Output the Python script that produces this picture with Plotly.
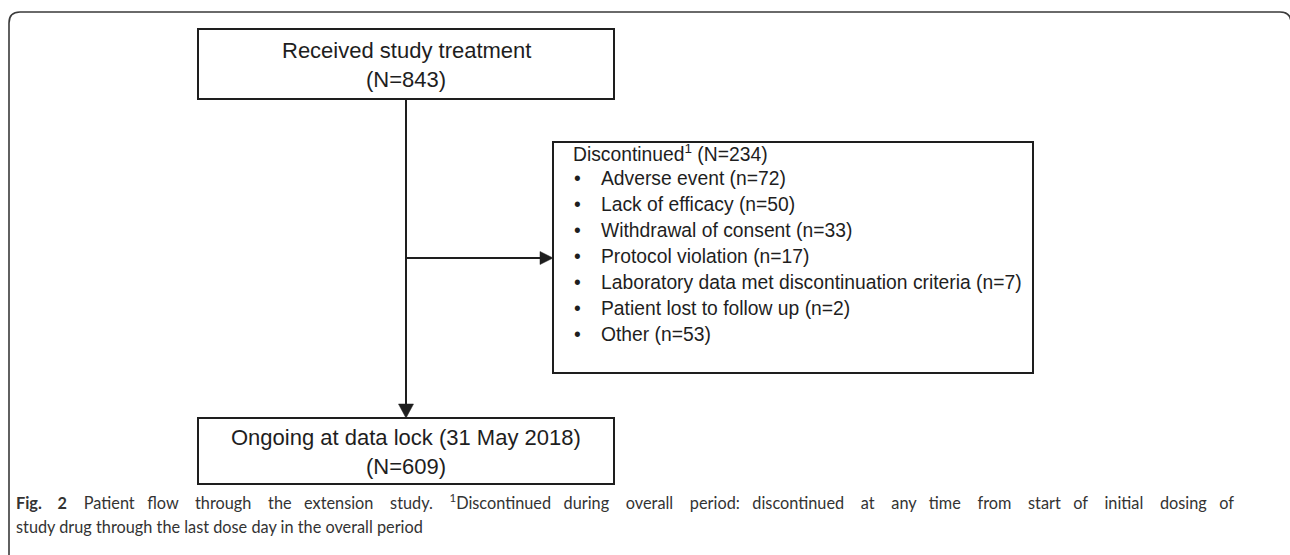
import plotly.graph_objects as go

# ---------------- data ----------------
n_received = 843
n_discontinued = 234
n_ongoing = 609
top_box_lines = ["Received study treatment", f"(N={n_received})"]
bottom_box_lines = ["Ongoing at data lock (31 May 2018)", f"(N={n_ongoing})"]
disc_header = f"Discontinued<sup>1</sup> (N={n_discontinued})"
reasons = [
    "Adverse event",
    "Lack of efficacy",
    "Withdrawal of consent",
    "Protocol violation",
    "Laboratory data met discontinuation criteria",
    "Patient lost to follow up",
    "Other",
]
reason_counts = [72, 50, 33, 17, 7, 2, 53]
caption_line1_words = ["<b>Fig.", "2</b>", "Patient", "flow", "through", "the", "extension", "study.",
                       "<sup>1</sup>Discontinued", "during", "overall", "period:", "discontinued", "at",
                       "any", "time", "from", "start", "of", "initial", "dosing", "of"]
caption_line2 = "study drug through the last dose day in the overall period"

# ---------------- layout geometry (pixels) ----------------
W, H = 1290, 555
TOP_BOX = (198, 29, 614, 99)
BOT_BOX = (198, 418, 614, 484)
DISC_BOX = (553, 142, 1033, 373)
STEM_X = 406
BRANCH_Y = 258
BOX_FONT = dict(family="Liberation Sans, Arial, sans-serif", size=22, color="#1e1e1e")
LIST_FONT = dict(family="Liberation Sans, Arial, sans-serif", size=19.3, color="#1e1e1e")
CAP_FONT = dict(family="Lato, Open Sans, sans-serif", size=16.3, color="#333333")
LINE_COL = "#1e1e1e"
NB = "\u00a0"

fig = go.Figure()
fig.add_trace(go.Scatter(x=[0], y=[0], mode="markers", marker=dict(opacity=0), hoverinfo="skip"))

shapes = []
# outer rounded frame (clipped at right/bottom as in the source)
shapes.append(dict(type="path", xref="x", yref="y",
                   path="M 9,560 L 9,23 Q 9,12 20,12 L 1280,12 Q 1291,12 1291,23 L 1291,560",
                   line=dict(color="#3a3a3a", width=1.6)))
for (x0, y0, x1, y1) in (TOP_BOX, BOT_BOX, DISC_BOX):
    shapes.append(dict(type="rect", xref="x", yref="y", x0=x0, y0=y0, x1=x1, y1=y1,
                       line=dict(color=LINE_COL, width=2), fillcolor="white", layer="below"))
# connectors
shapes.append(dict(type="line", xref="x", yref="y", x0=STEM_X, y0=TOP_BOX[3], x1=STEM_X, y1=BOT_BOX[1] - 12,
                   line=dict(color=LINE_COL, width=2)))
shapes.append(dict(type="line", xref="x", yref="y", x0=STEM_X, y0=BRANCH_Y, x1=DISC_BOX[0] - 12, y1=BRANCH_Y,
                   line=dict(color=LINE_COL, width=2)))
# arrowheads
tip_y = BOT_BOX[1]
shapes.append(dict(type="path", xref="x", yref="y",
                   path=f"M {STEM_X-7.5},{tip_y-14} L {STEM_X+7.5},{tip_y-14} L {STEM_X},{tip_y} Z",
                   fillcolor=LINE_COL, line=dict(color=LINE_COL, width=0.5)))
tip_x = DISC_BOX[0]
shapes.append(dict(type="path", xref="x", yref="y",
                   path=f"M {tip_x-13},{BRANCH_Y-6.5} L {tip_x-13},{BRANCH_Y+6.5} L {tip_x},{BRANCH_Y} Z",
                   fillcolor=LINE_COL, line=dict(color=LINE_COL, width=0.5)))

ann = []
def add_text(text, x, y, xanchor, font):
    ann.append(dict(text=text, x=x, y=y, xref="x", yref="y", xanchor=xanchor, yanchor="middle",
                    showarrow=False, font=font, align="left" if xanchor == "left" else "center"))

cx = (TOP_BOX[0] + TOP_BOX[2]) / 2
add_text(top_box_lines[0], cx, 50, "center", BOX_FONT)
add_text(top_box_lines[1], cx, 79, "center", BOX_FONT)
add_text(bottom_box_lines[0], cx, 437, "center", BOX_FONT)
add_text(bottom_box_lines[1], cx, 466, "center", BOX_FONT)

first_y = 153
step = 25.9
add_text(disc_header, 571, first_y, "left", LIST_FONT)
for i, (r, n) in enumerate(zip(reasons, reason_counts)):
    yy = first_y + step * (i + 1)
    add_text("•", 572, yy, "left", LIST_FONT)
    add_text(f"{r} (n={n})", 599, yy, "left", LIST_FONT)

# justified first caption line: widen the word gaps
gaps = [" " + NB * (2 if i % 3 == 2 else 3) for i in range(len(caption_line1_words) - 1)]
line1 = caption_line1_words[0]
for g, w in zip(gaps, caption_line1_words[1:]):
    line1 += g + w
add_text(line1, 14, 501, "left", CAP_FONT)
add_text(caption_line2, 14, 526, "left", CAP_FONT)

fig.update_layout(
    width=W, height=H, margin=dict(l=0, r=0, t=0, b=0),
    paper_bgcolor="white", plot_bgcolor="white",
    xaxis=dict(range=[0, W], visible=False, fixedrange=True),
    yaxis=dict(range=[H, 0], visible=False, fixedrange=True),
    shapes=shapes, annotations=ann, showlegend=False,
)

fig.write_html("out.html", config={"displayModeBar": False},
               post_script="document.body.style.margin='0';document.body.style.overflow='hidden';")
